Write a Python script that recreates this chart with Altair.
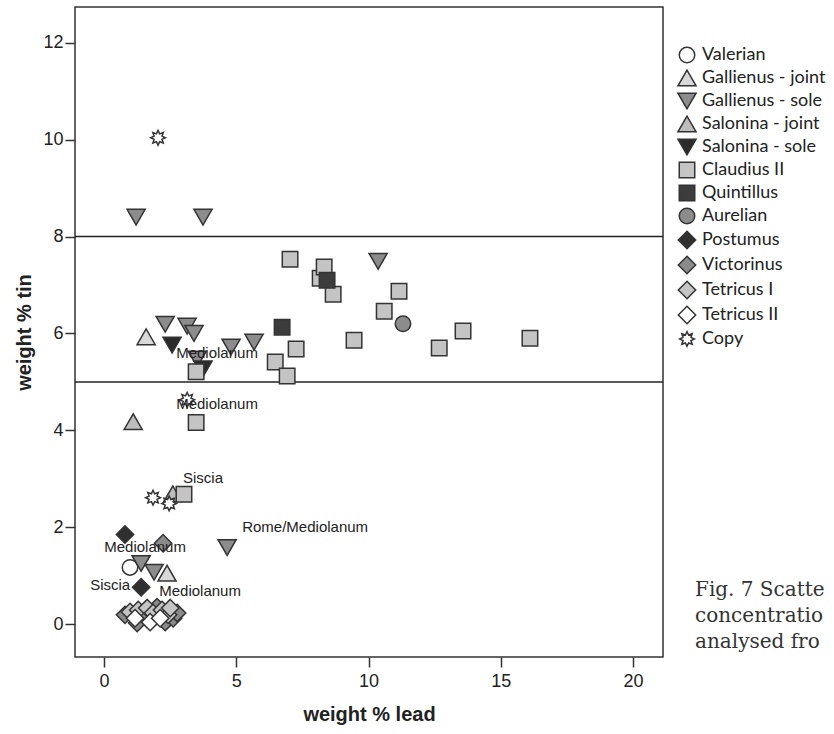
import math
import altair as alt
import pandas as pd

# ---------------- data ----------------
categories = ["Valerian", "Gallienus - joint", "Gallienus - sole", "Salonina - joint",
              "Salonina - sole", "Claudius II", "Quintillus", "Aurelian", "Postumus",
              "Victorinus", "Tetricus I", "Tetricus II", "Copy"]

valerian_lead = [0.98]
valerian_tin = [1.17]

gallienus_joint_lead = [1.59, 2.38]
gallienus_joint_tin = [5.93, 1.05]

gallienus_sole_lead = [1.21, 3.74, 2.31, 3.14, 3.40, 4.80, 5.67, 3.52, 10.36, 4.65, 1.40, 1.89]
gallienus_sole_tin = [8.40, 8.40, 6.19, 6.15, 6.00, 5.72, 5.82, 5.47, 7.49, 1.58, 1.25, 1.07]

salonina_joint_lead = [1.10, 2.60]
salonina_joint_tin = [4.18, 2.69]

salonina_sole_lead = [2.57, 3.74]
salonina_sole_tin = [5.76, 5.27]

claudius_lead = [7.03, 8.17, 8.32, 8.66, 11.15, 10.59, 13.57, 12.67, 16.10, 9.45, 7.26, 6.47, 6.92, 3.48, 3.48, 3.02]
claudius_tin = [7.53, 7.14, 7.37, 6.81, 6.87, 6.46, 6.05, 5.70, 5.90, 5.86, 5.68, 5.41, 5.12, 5.21, 4.16, 2.68]

quintillus_lead = [8.43, 6.73]
quintillus_tin = [7.10, 6.13]

aurelian_lead = [11.30]
aurelian_tin = [6.20]

postumus_lead = [0.79, 1.40]
postumus_tin = [1.85, 0.76]

victorinus_lead = [2.23, 0.79, 1.47, 2.00, 2.31, 2.61, 2.76, 1.25]
victorinus_tin = [1.67, 0.19, 0.19, 0.35, 0.04, 0.12, 0.23, 0.02]

tetricus1_lead = [0.98, 1.29, 1.63, 1.85, 2.19, 2.42, 2.50]
tetricus1_tin = [0.25, 0.29, 0.33, 0.23, 0.29, 0.19, 0.33]

tetricus2_lead = [1.17, 1.74, 2.12]
tetricus2_tin = [0.12, 0.04, 0.12]

copy_lead = [2.04, 3.14, 1.85, 2.46]
copy_tin = [10.04, 4.63, 2.61, 2.49]

label_text = ["Mediolanum", "Mediolanum", "Siscia", "Rome/Mediolanum", "Mediolanum", "Siscia", "Mediolanum"]
label_lead = [4.27, 4.27, 3.74, 7.60, 1.55, 0.23, 3.63]
label_tin = [5.60, 4.55, 3.02, 2.00, 1.60, 0.80, 0.68]

limit_tin = [5, 8]

# caption as far as it is visible in the reference (cut at the page edge)
caption_lines = ["Fig. 7   Scatte", "concentratio", "analysed fro"]

# ---------------- build table ----------------
series = [
    (valerian_lead, valerian_tin), (gallienus_joint_lead, gallienus_joint_tin),
    (gallienus_sole_lead, gallienus_sole_tin), (salonina_joint_lead, salonina_joint_tin),
    (salonina_sole_lead, salonina_sole_tin), (claudius_lead, claudius_tin),
    (quintillus_lead, quintillus_tin), (aurelian_lead, aurelian_tin),
    (postumus_lead, postumus_tin), (victorinus_lead, victorinus_tin),
    (tetricus1_lead, tetricus1_tin), (tetricus2_lead, tetricus2_tin),
    (copy_lead, copy_tin),
]
rows = []
for cat, (xs, ys) in zip(categories, series):
    for a, b in zip(xs, ys):
        rows.append({"emperor": cat, "lead": a, "tin": b})
df = pd.DataFrame(rows)
labels_df = pd.DataFrame({"text": label_text, "lead": label_lead, "tin": label_tin})
rules_df = pd.DataFrame({"tin": limit_tin})


# ---------------- symbol shapes (unit coordinates, all drawn at one size) ----------------
def poly(pts):
    return "M" + "L".join(f"{x:.3f},{y:.3f}" for x, y in pts) + "Z"


def star_path(n=8, r_out=0.95, r_in=0.55):
    pts = []
    for k in range(2 * n):
        r = r_out if k % 2 == 0 else r_in
        a = math.pi * k / n
        pts.append((r * math.sin(a), -r * math.cos(a)))
    return poly(pts)


tr = 1.17
th = tr * math.sqrt(3) / 2
tri_up = poly([(0, -th), (-tr, th), (tr, th)])
tri_down = poly([(0, th), (-tr, -th), (tr, -th)])
dr = 1.12
diamond = poly([(0, -dr), (dr, 0), (0, dr), (-dr, 0)])

shapes = ["circle", tri_up, tri_down, tri_up, tri_down,
          "square", "square", "circle", diamond, diamond, diamond, diamond,
          star_path()]
fills = ["#ffffff", "#d9d9d9", "#8c8c8c", "#bdbdbd", "#2b2b2b", "#c4c4c4", "#3c3c3c",
         "#8c8c8c", "#2f2f2f", "#8a8a8a", "#c4c4c4", "#ffffff", "#ffffff"]
strokes = ["#333333"] * len(categories)

xscale = alt.Scale(domain=[-1.1, 21.13], nice=False, zero=False)
yscale = alt.Scale(domain=[-0.68, 12.74], nice=False, zero=False)

xaxis = alt.Axis(title="weight % lead", values=[0, 5, 10, 15, 20], format="d")
yaxis = alt.Axis(title="weight % tin", values=[0, 2, 4, 6, 8, 10, 12], format="d")

legend = alt.Legend(
    title=None, orient="none", legendX=603, legendY=39, padding=0,
    labelFont="Lato", labelFontSize=18, labelColor="#222222", labelOffset=6,
    symbolSize=240, symbolStrokeColor="#333333", symbolStrokeWidth=1.5,
    rowPadding=1,
)

rules = alt.Chart(rules_df).mark_rule(color="#222222", strokeWidth=1.5).encode(
    y=alt.Y("tin:Q", scale=yscale, axis=yaxis)
)

points = alt.Chart(df).mark_point(filled=True, opacity=1, size=240, strokeWidth=1.5).encode(
    x=alt.X("lead:Q", scale=xscale, axis=xaxis),
    y=alt.Y("tin:Q", scale=yscale, axis=yaxis),
    shape=alt.Shape("emperor:N", scale=alt.Scale(domain=categories, range=shapes), legend=legend),
    fill=alt.Fill("emperor:N", scale=alt.Scale(domain=categories, range=fills), legend=legend),
    stroke=alt.Stroke("emperor:N", scale=alt.Scale(domain=categories, range=strokes), legend=legend),
)

labels = alt.Chart(labels_df).mark_text(font="Liberation Sans", fontSize=15, color="#222222",
                                         align="center", baseline="middle").encode(
    x=alt.X("lead:Q", scale=xscale),
    y=alt.Y("tin:Q", scale=yscale),
    text="text:N",
)

cap_layers = []
for i, line in enumerate(caption_lines):
    cap_layers.append(
        alt.Chart(rules_df).transform_filter(alt.datum.tin == 5).mark_text(
            font="DejaVu Serif", fontSize=20, color="#333333", align="left", baseline="alphabetic"
        ).encode(x=alt.value(620), y=alt.value(589 + 26 * i), text=alt.value(line))
    )

chart = alt.layer(rules, points, labels, *cap_layers).properties(
    width=588, height=650,
    padding={"left": 75, "top": 7, "right": 171, "bottom": 77},
    autosize=alt.AutoSizeParams(type="none"),
).configure_view(
    stroke="#333333", strokeWidth=1.5
).configure_axis(
    domain=False, grid=False, tickColor="#333333", tickWidth=1.5, tickSize=10,
    labelFont="Liberation Sans", labelFontSize=18, labelColor="#222222",
    titleFont="Liberation Sans", titleFontSize=20, titleFontWeight="bold", titleColor="#222222",
).configure_axisX(
    labelPadding=5, titlePadding=14
).configure_axisY(
    labelPadding=2, titlePadding=8
)

chart.save("out.html", embed_options={"renderer": "svg", "actions": False})
